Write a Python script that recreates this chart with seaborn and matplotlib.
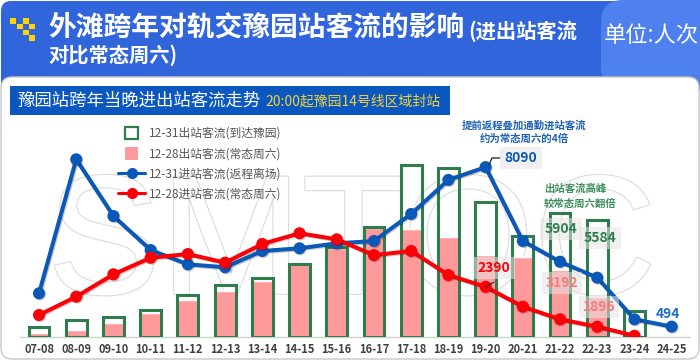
import numpy as np
import pandas as pd
import matplotlib
matplotlib.use("Agg")
import matplotlib.pyplot as plt
import matplotlib.patheffects as pe
from matplotlib.legend_handler import HandlerPatch
from matplotlib.lines import Line2D
from matplotlib.patches import FancyBboxPatch, Patch, Rectangle
import seaborn as sns

periods = ["07-08", "08-09", "09-10", "10-11", "11-12", "12-13", "13-14", "14-15", "15-16",
           "16-17", "17-18", "18-19", "19-20", "20-21", "21-22", "22-23", "23-24", "24-25"]
exit_1231 = [476, 810, 938, 1286, 2000, 2460, 2825, 3476, 4300,
             5250, 8190, 8050, 6410, 4825, 5904, 5584, 1250, np.nan]
exit_1228 = [205, 350, 650, 1160, 1760, 2190, 2680, 3555, 4240,
             5190, 5130, 4750, 3900, 3795, 3192, 1896, np.nan, np.nan]
enter_1231 = [2080, 8460, 5760, 4140, 3460, 3320, 4095, 4225, 4460,
              4570, 5860, 7480, 8090, 4570, 3585, 2825, 843, 494]
enter_1228 = [1048, 1920, 2985, 3775, 3950, 3540, 4430, 4940, 4650,
              3900, 4095, 2950, 2390, 1445, 843, 490, 60, np.nan]

legend_labels = ["12-31出站客流(到达豫园)", "12-28出站客流(常态周六)",
                 "12-31进站客流(返程离场)", "12-28进站客流(常态周六)"]

GREEN = "#2f7d4c"
PINK = "#ff9a9c"
BLUE = "#0a58b8"
RED = "#fb0007"

sns.set_theme(style="white")
plt.rcParams["font.family"] = ["Noto Sans CJK SC", "DejaVu Sans"]
plt.rcParams["axes.unicode_minus"] = False


class SquareHandler(HandlerPatch):
    # square swatch, narrower than the line handles
    def create_artists(self, legend, orig_handle, xdescent, ydescent, width, height, fontsize, trans):
        side = 9.2
        p = Rectangle((width / 2 - side / 2 - xdescent, height / 2 - side / 2 - ydescent), side, side,
                      fc=orig_handle.get_facecolor(), ec=orig_handle.get_edgecolor(),
                      lw=orig_handle.get_linewidth(), transform=trans)
        return [p]


fig = plt.figure(figsize=(7.0, 3.61), dpi=100, facecolor="white")

# page furniture, in pixel coordinates
bg = fig.add_axes([0, 0, 1, 1])
bg.set_xlim(0, 700)
bg.set_ylim(361, 0)
bg.axis("off")

bg.add_patch(FancyBboxPatch((1, 1), 698, 120, boxstyle="round,pad=0,rounding_size=10",
                            fc="#3165db", ec="none", zorder=1))
bg.add_patch(FancyBboxPatch((601, 0), 120, 90, boxstyle="round,pad=0,rounding_size=22",
                            fc="#4f80f0", ec="none", zorder=1.1, clip_on=True))
bg.add_patch(FancyBboxPatch((1, 77), 698, 282, boxstyle="round,pad=0,rounding_size=11",
                            fc="white", ec="#c8c8c8", lw=1, zorder=2))
bg.add_patch(Rectangle((10, 86), 440, 29, fc="#0a58bf", ec="none", zorder=3))

# yellow icon
for ix, iy in [(10, 18), (23, 18), (16.5, 23.5), (29, 23.5), (23, 29.5), (29, 35)]:
    bg.add_patch(Rectangle((ix, iy), 6.2, 5.8, fc="#ffd400", ec="none", zorder=3))

bg.text(48, 28, "外滩跨年对轨交豫园站客流的影响", color="white", fontsize=20, fontweight="bold",
        ha="left", va="center", zorder=4)
bg.text(468, 31, "(进出站客流", color="white", fontsize=14.6, fontweight="bold",
        ha="left", va="center", zorder=4)
bg.text(48, 55, "对比常态周六)", color="white", fontsize=14.6, fontweight="bold",
        ha="left", va="center", zorder=4)
bg.text(651, 35, "单位:人次", color="white", fontsize=16, ha="center", va="center", zorder=4)
bg.text(17, 101, "豫园站跨年当晚进出站客流走势", color="white", fontsize=12.5, ha="left", va="center", zorder=4)
bg.text(265, 102, "20:00起豫园14号线区域封站", color="#f4d03f", fontsize=10, ha="left", va="center", zorder=4)

# watermark
bg.text(352, 250, "SMTOC", fontsize=122, color="white", ha="center", va="center", zorder=2.5,
        family="Liberation Sans", path_effects=[pe.withStroke(linewidth=2, foreground="#dedede"),
                                                pe.Normal()])

# chart: y zero at 337 px, 0.021 px per passenger
ax = fig.add_axes([20.4 / 700, (361 - 337) / 361, 669.9 / 700, 207 / 361])
ax.patch.set_alpha(0)
ax.set_zorder(5)

df = pd.DataFrame({"period": periods, "exit_1231": exit_1231, "exit_1228": exit_1228,
                   "enter_1231": enter_1231, "enter_1228": enter_1228})

sns.barplot(data=df, x="period", y="exit_1228", order=periods, color=PINK, saturation=1,
            width=0.56, ax=ax, zorder=2, errorbar=None)
sns.barplot(data=df, x="period", y="exit_1231", order=periods, fill=False, color=GREEN,
            saturation=1, width=0.56, linewidth=2.2, ax=ax, zorder=3, errorbar=None)

shadow = [pe.SimpleLineShadow(offset=(0.8, -0.8), shadow_color="#000000", alpha=0.2), pe.Normal()]
for col, colour, z in [("enter_1231", BLUE, 4), ("enter_1228", RED, 5)]:
    sns.pointplot(data=df, x="period", y=col, order=periods, color=colour, errorbar=None,
                  linewidth=2.9, markersize=6.5, ax=ax, zorder=z)
for art in ax.lines:
    art.set_path_effects(shadow)

ax.set_xlim(-0.5, 17.5)
ax.set_ylim(0, 207 / 0.021)
ax.set_xlabel("")
ax.set_ylabel("")
ax.set_yticks([])
sns.despine(ax=ax, left=True)
ax.spines["bottom"].set_color("#d0d0d0")
ax.spines["bottom"].set_linewidth(1)
ax.tick_params(axis="x", length=0, pad=4, labelsize=8, labelcolor="#404040")
for lab in ax.get_xticklabels():
    lab.set_fontweight("bold")

handles = [
    Patch(fc="white", ec=GREEN, lw=1.6),
    Patch(fc=PINK, ec="none", lw=0),
    Line2D([], [], color=BLUE, lw=2.2, marker="o", ms=7),
    Line2D([], [], color=RED, lw=2.2, marker="o", ms=7),
]
ax.legend(handles, legend_labels, loc="upper left", bbox_to_anchor=(97.6 / 669.9, 1 + 3 / 207),
          frameon=False, fontsize=8.5, labelcolor="#555555", handlelength=2.3, handleheight=1.1,
          handletextpad=0.3, labelspacing=0.62, borderpad=0, borderaxespad=0,
          handler_map={Patch: SquareHandler()})

# annotations, in pixel coordinates on top of the chart
over = fig.add_axes([0, 0, 1, 1])
over.set_xlim(0, 700)
over.set_ylim(361, 0)
over.axis("off")
over.set_zorder(6)


def value_label(x, y, s, colour, size=10):
    over.text(x, y, s, color=colour, fontsize=size, fontweight="bold", ha="center", va="center",
              bbox=dict(fc="#e4e4e4", ec="none", alpha=0.55, pad=3))


over.text(524, 125, "提前返程叠加通勤进站客流", color="#1f62b4", fontsize=7.5, fontweight="bold",
          ha="center", va="center")
over.text(524, 139, "约为常态周六的4倍", color="#1f62b4", fontsize=7.5, fontweight="bold",
          ha="center", va="center")
over.plot([489, 492, 500], [165, 158, 158], color="#333333", lw=1)
value_label(521, 158, "8090", BLUE)
over.text(575, 189, "出站客流高峰", color="#3f8f5f", fontsize=7.5, fontweight="bold", ha="center", va="center")
over.text(580, 204, "较常态周六翻倍", color="#3f8f5f", fontsize=7.5, fontweight="bold", ha="center", va="center")
value_label(561, 229, "5904", GREEN)
value_label(600, 238, "5584", GREEN)
value_label(494, 268, "2390", RED)
over.plot([486, 494], [287, 282], color="#222222", lw=0.8)
value_label(562, 283, "3192", "#f47a7c")
value_label(599, 307, "1896", "#f47a7c")
over.text(668, 314, "494", color="#1f6fc0", fontsize=10, fontweight="bold", ha="center", va="center")

fig.savefig("out.png", dpi=100)
